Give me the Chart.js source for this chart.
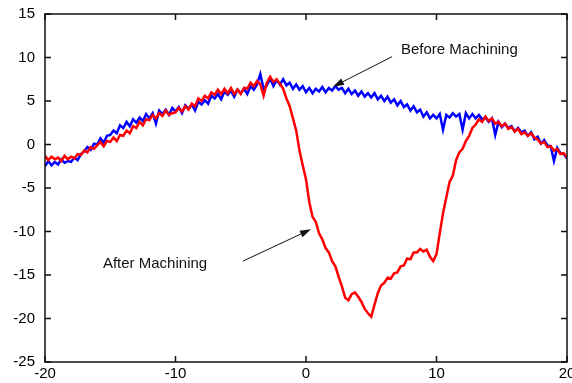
<!DOCTYPE html>
<html>
<head>
<meta charset="utf-8">
<script src="https://cdn.jsdelivr.net/npm/chart.js@4.4.1/dist/chart.umd.min.js"></script>
<style>
  html, body { margin: 0; padding: 0; background: #fff; }
  #c { display: block; }
</style>
</head>
<body>
<canvas id="c" width="572" height="383"></canvas>
<script>
// sample positions along x
const xs = [
  -20, -19.75, -19.5, -19.25, -19, -18.75, -18.5, -18.25, -18, -17.75, -17.5, -17.25,
  -17, -16.75, -16.5, -16.25, -16, -15.75, -15.5, -15.25, -15, -14.75, -14.5, -14.25,
  -14, -13.75, -13.5, -13.25, -13, -12.75, -12.5, -12.25, -12, -11.75, -11.5, -11.25,
  -11, -10.75, -10.5, -10.25, -10, -9.75, -9.5, -9.25, -9, -8.75, -8.5, -8.25,
  -8, -7.75, -7.5, -7.25, -7, -6.75, -6.5, -6.25, -6, -5.75, -5.5, -5.25,
  -5, -4.75, -4.5, -4.25, -4, -3.75, -3.5, -3.25, -3, -2.75, -2.5, -2.25,
  -2, -1.75, -1.5, -1.25, -1, -0.75, -0.5, -0.25, 0, 0.25, 0.5, 0.75,
  1, 1.25, 1.5, 1.75, 2, 2.25, 2.5, 2.75, 3, 3.25, 3.5, 3.75,
  4, 4.25, 4.5, 4.75, 5, 5.25, 5.5, 5.75, 6, 6.25, 6.5, 6.75,
  7, 7.25, 7.5, 7.75, 8, 8.25, 8.5, 8.75, 9, 9.25, 9.5, 9.75,
  10, 10.25, 10.5, 10.75, 11, 11.25, 11.5, 11.75, 12, 12.25, 12.5, 12.75,
  13, 13.25, 13.5, 13.75, 14, 14.25, 14.5, 14.75, 15, 15.25, 15.5, 15.75,
  16, 16.25, 16.5, 16.75, 17, 17.25, 17.5, 17.75, 18, 18.25, 18.5, 18.75,
  19, 19.25, 19.5, 19.75, 20
];

// blue trace
const beforeMachining = [
  -2.5, -1.9, -2.4, -2.0,  -2.3, -1.7, -2.1, -1.9,  -2.0, -1.5, -1.8, -1.1,
  -0.8, -0.3, -0.6, 0.1,   0.0, 0.7, 0.2, 1.0,      1.1, 1.6, 1.3, 2.2,
  1.9, 2.6, 2.1, 2.9,      2.5, 3.1, 2.7, 3.5,      3.0, 3.6, 2.4, 3.9,
  3.5, 4.0, 3.4, 4.2,      3.8, 4.3, 3.6, 4.5,      4.1, 4.6, 3.9, 4.9,
  4.6, 5.1, 4.7, 5.6,      5.3, 5.8, 5.2, 6.1,      5.7, 6.2, 5.5, 6.3,
  5.9, 6.4, 5.8, 6.7,      6.3, 6.9, 8.1, 6.4,      6.8, 7.6, 6.7, 7.4,
  6.9, 7.5, 6.8, 7.1,      6.4, 6.9, 6.3, 6.7,      6.0, 6.5, 5.9, 6.4,
  6.1, 6.6, 6.0, 6.5,      6.2, 6.7, 6.3, 6.5,      5.9, 6.4, 5.8, 6.2,
  5.6, 6.1, 5.5, 5.9,      5.4, 5.9, 5.2, 5.6,      5.0, 5.5, 4.8, 5.2,
  4.5, 5.0, 4.3, 4.6,      3.9, 4.4, 3.7, 4.0,      3.2, 3.7, 3.0, 3.4,
  3.0, 3.5, 1.7, 3.4,      3.1, 3.6, 3.2, 3.5,      1.7, 3.6, 3.0, 3.5,
  3.0, 3.4, 2.9, 3.1,      2.6, 3.0, 1.1, 2.6,      2.0, 2.4, 1.9, 2.1,
  1.5, 1.9, 1.4, 1.6,      1.0, 1.4, 0.6, 0.9,      0.1, 0.5, -0.1, -0.2,
  -1.9, -0.4, -1.0, -1.1,  -1.6
];

// red trace
const afterMachining = [
  -1.3, -1.8, -1.4, -1.7,  -1.5, -1.9, -1.3, -1.7,  -1.4, -1.6, -1.1, -1.2,
  -0.7, -0.9, -0.3, -0.5,  -0.1, 0.3, -0.2, 0.4,    0.3, 0.8, 0.4, 1.1,
  1.0, 1.6, 1.3, 2.1,      1.9, 2.6, 2.2, 2.9,      2.8, 3.4, 3.0, 3.6,
  3.3, 3.9, 3.4, 3.6,      3.7, 4.2, 3.8, 4.4,      4.0, 4.7, 4.4, 5.3,
  5.0, 5.6, 5.3, 6.0,      5.7, 6.3, 5.8, 6.4,      5.9, 6.5, 5.8, 6.3,
  5.8, 6.5, 6.4, 7.1,      6.7, 7.3, 6.9, 5.6,      7.1, 7.8, 7.2, 7.5,
  7.0, 6.4, 5.3, 4.4,      3.0, 1.6, -0.7, -2.4,    -4.0, -6.6, -8.3, -8.9,
  -10.2, -10.9, -11.9, -12.4,  -13.4, -14.0, -15.2, -16.3,  -17.6, -17.9, -17.2, -17.0,
  -17.5, -18.1, -18.9, -19.4,  -19.8, -18.4, -17.1, -16.2,  -15.9, -15.3, -15.4, -14.8,
  -14.7, -14.0, -13.9, -13.1,  -13.2, -12.4, -12.4, -12.0,  -12.3, -12.1, -12.9, -13.4,
  -12.6, -10.2, -7.9, -6.1,    -4.3, -3.6, -1.8, -0.9,      -0.5, 0.4, 1.0, 1.9,
  2.3, 2.9, 2.6, 3.2,      2.7, 3.0, 2.4, 2.6,      2.1, 2.4, 1.8, 2.0,
  1.5, 1.8, 1.2, 1.4,      1.0, 1.3, 0.8, 0.6,      0.1, 0.3, -0.3, -0.2,
  -0.7, -0.5, -1.1, -1.0,  -1.5
];

const xTicks = [-20, -10, 0, 10, 20];
const yTicks = [-25, -20, -15, -10, -5, 0, 5, 10, 15];

// annotation labels and arrows, in data units
const notes = [
  { text: 'Before Machining', at: [7.28, 10.88], from: [6.6, 10.1], to: [2.07, 6.64] },
  { text: 'After Machining', at: [-15.56, -13.75], from: [-4.83, -13.4], to: [0.38, -9.75] }
];

const FONT = '"Liberation Sans", Arial, Helvetica, sans-serif';

function arrow(ctx, x0, y0, x1, y1) {
  const ang = Math.atan2(y1 - y0, x1 - x0);
  const len = 11, half = 3.5;
  const bx = x1 - len * Math.cos(ang), by = y1 - len * Math.sin(ang);
  ctx.beginPath();
  ctx.moveTo(x0, y0);
  ctx.lineTo(bx, by);
  ctx.stroke();
  ctx.beginPath();
  ctx.moveTo(x1, y1);
  ctx.lineTo(bx + half * Math.sin(ang), by - half * Math.cos(ang));
  ctx.lineTo(bx - half * Math.sin(ang), by + half * Math.cos(ang));
  ctx.closePath();
  ctx.fill();
}

const framePlugin = {
  id: 'frame',
  afterDatasetsDraw(chart) {
    const { ctx, chartArea: a, scales: { x, y } } = chart;
    ctx.save();
    ctx.strokeStyle = '#111';
    ctx.lineWidth = 1.5;
    ctx.strokeRect(a.left, a.top, a.right - a.left, a.bottom - a.top);
    ctx.beginPath();
    xTicks.forEach(v => {
      const px = x.getPixelForValue(v);
      ctx.moveTo(px, a.bottom); ctx.lineTo(px, a.bottom - 6);
      ctx.moveTo(px, a.top); ctx.lineTo(px, a.top + 6);
    });
    yTicks.forEach(v => {
      const py = y.getPixelForValue(v);
      ctx.moveTo(a.left, py); ctx.lineTo(a.left + 6, py);
      ctx.moveTo(a.right, py); ctx.lineTo(a.right - 6, py);
    });
    ctx.stroke();

    ctx.fillStyle = '#111';
    ctx.font = '15px ' + FONT;
    ctx.textBaseline = 'middle';
    ctx.textAlign = 'left';
    ctx.lineWidth = 1;
    notes.forEach(n => {
      ctx.fillText(n.text, x.getPixelForValue(n.at[0]), y.getPixelForValue(n.at[1]));
      arrow(ctx,
        x.getPixelForValue(n.from[0]), y.getPixelForValue(n.from[1]),
        x.getPixelForValue(n.to[0]), y.getPixelForValue(n.to[1]));
    });
    ctx.restore();
  }
};

const toPoints = ys => xs.map((x, i) => ({ x, y: ys[i] }));

new Chart(document.getElementById('c'), {
  type: 'line',
  data: {
    datasets: [
      {
        label: 'Before Machining',
        data: toPoints(beforeMachining),
        borderColor: '#0000ff',
        borderWidth: 2.5,
        pointRadius: 0,
        tension: 0,
        order: 2
      },
      {
        label: 'After Machining',
        data: toPoints(afterMachining),
        borderColor: '#ff0000',
        borderWidth: 2.5,
        pointRadius: 0,
        tension: 0,
        order: 1
      }
    ]
  },
  options: {
    responsive: false,
    animation: false,
    devicePixelRatio: 1,
    layout: { padding: { top: 14, right: 5, left: 0, bottom: 0 } },
    plugins: { legend: { display: false }, tooltip: { enabled: false } },
    scales: {
      x: {
        type: 'linear',
        min: -20,
        max: 20,
        grid: { display: false, drawTicks: false },
        border: { display: false },
        ticks: { color: '#000', font: { family: FONT, size: 15 }, padding: 3, maxRotation: 0, autoSkip: false },
        afterBuildTicks(s) { s.ticks = xTicks.map(v => ({ value: v })); },
        afterFit(s) { s.height = 21; s.paddingLeft = 0; s.paddingRight = 0; }
      },
      y: {
        type: 'linear',
        min: -25,
        max: 15,
        grid: { display: false, drawTicks: false },
        border: { display: false },
        ticks: { color: '#000', font: { family: FONT, size: 15 }, padding: 10, autoSkip: false },
        afterBuildTicks(s) { s.ticks = yTicks.map(v => ({ value: v })); },
        afterFit(s) { s.width = 45; s.paddingTop = 0; s.paddingBottom = 0; }
      }
    }
  },
  plugins: [framePlugin]
});
</script>
</body>
</html>
